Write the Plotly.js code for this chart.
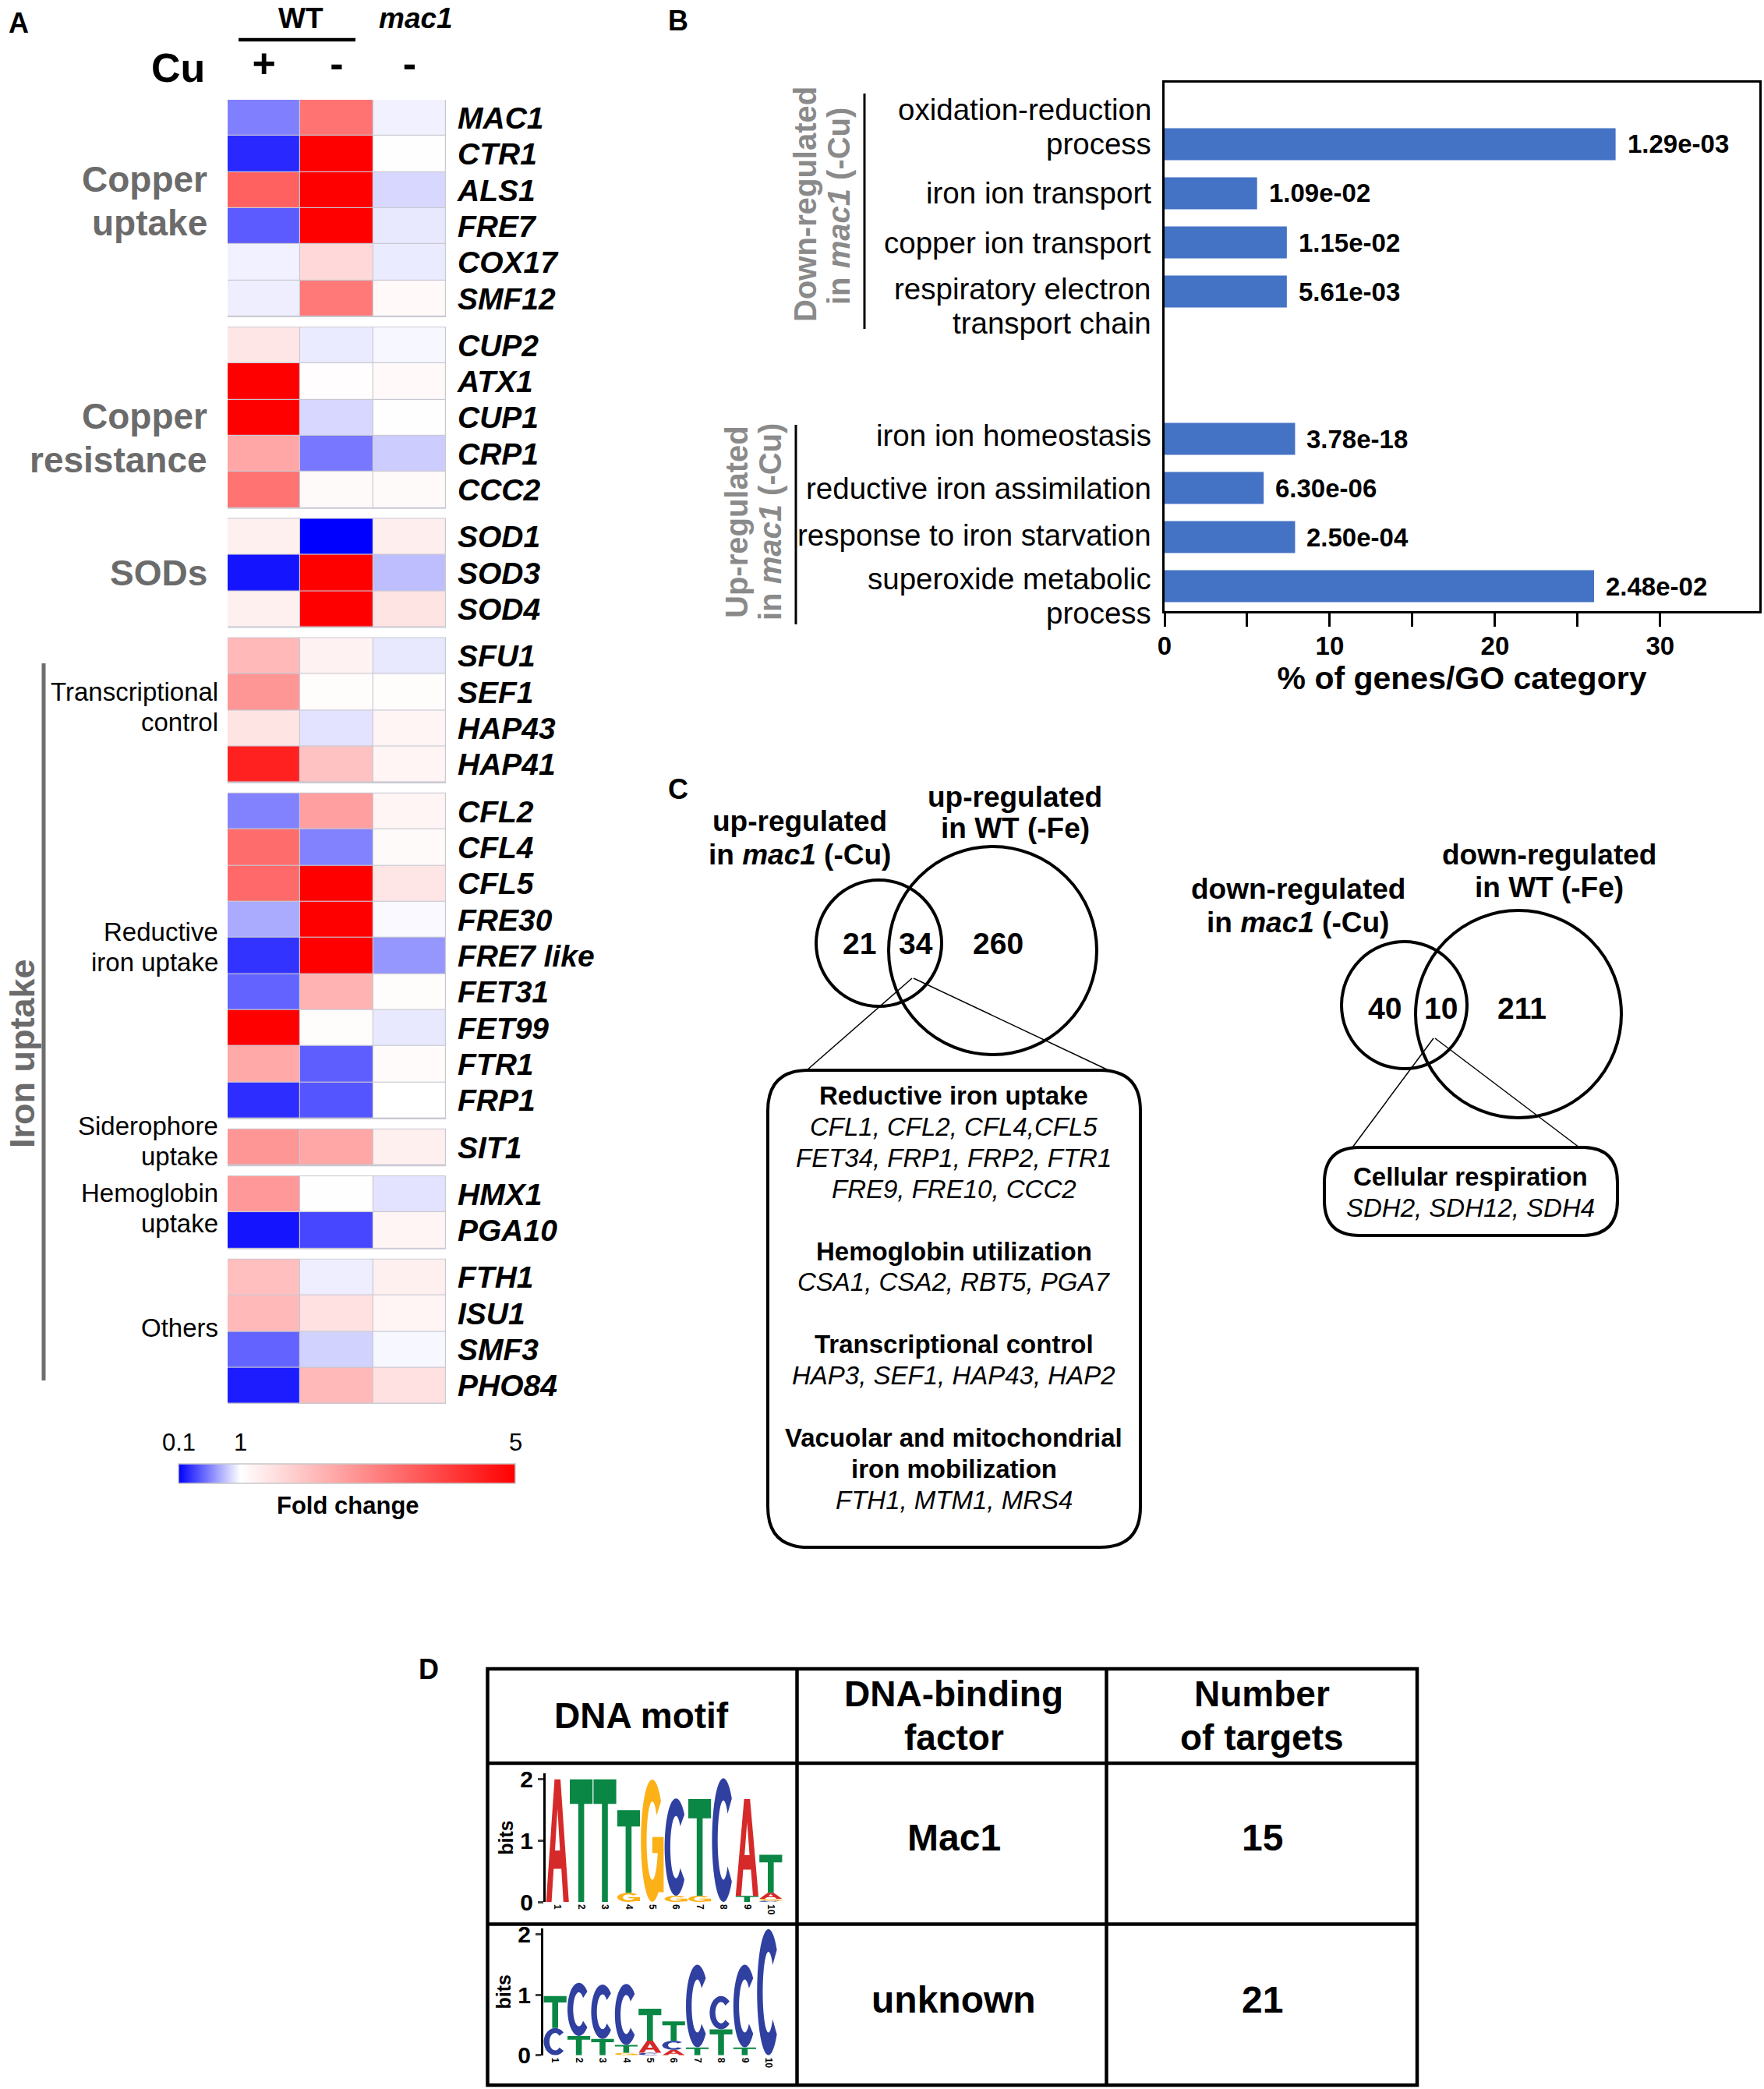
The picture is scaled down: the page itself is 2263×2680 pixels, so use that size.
<!DOCTYPE html>
<html>
<head>
<meta charset="utf-8">
<script src="https://cdn.plot.ly/plotly-3.0.1.min.js"></script>
<style>html,body{margin:0;padding:0;background:#fff;}</style>
</head>
<body>
<div id="chart" style="width:2263px;height:2680px"></div>
<script>
// ================= DATA =================
// ---- Panel A: heatmap of fold changes ----
const GENES = ['MAC1','CTR1','ALS1','FRE7','COX17','SMF12',
  'CUP2','ATX1','CUP1','CRP1','CCC2',
  'SOD1','SOD3','SOD4',
  'SFU1','SEF1','HAP43','HAP41',
  'CFL2','CFL4','CFL5','FRE30','FRE7 like','FET31','FET99','FTR1','FRP1',
  'SIT1',
  'HMX1','PGA10',
  'FTH1','ISU1','SMF3','PHO84'];
const GROUP_NAMES = ['Copper<br>uptake','Copper<br>resistance','SODs','Transcriptional<br>control',
  'Reductive<br>iron uptake','Siderophore<br>uptake','Hemoglobin<br>uptake','Others'];
const GROUP_SIZES = [6,5,3,4,9,1,2,4];
const CONDITIONS = ['+','-','-'];
const FC_WT_PLUS_CU = [0.55,0.24,3.5,0.42,0.95,0.94,
  1.4,5,5,2.4,3.2,
  1.24,0.17,1.24,
  2.1,2.65,1.42,4.5,
  0.56,3.3,3.35,0.7,0.28,0.45,5,2.35,0.26,
  2.65,
  2.6,0.17,
  2.0,2.1,0.45,0.2];
const FC_WT_MINUS_CU = [3.2,5,5,5,1.6,3.1,
  0.93,1.03,0.86,0.52,1.08,
  0.1,5,5,
  1.2,1.05,0.9,1.95,
  2.5,0.56,5,5,5,2.2,1.05,0.43,0.4,
  2.4,
  1.02,0.35,
  0.94,1.47,0.84,2.1];
const FC_MAC1_MINUS_CU = [0.95,1.02,0.86,0.92,0.93,1.1,
  0.97,1.1,1.02,0.82,1.08,
  1.27,0.77,1.42,
  0.92,1.05,1.15,1.15,
  1.15,1.08,1.4,0.98,0.63,1.05,0.92,1.06,1.0,
  1.24,
  0.9,1.15,
  1.24,1.15,0.97,1.47];
const FC_TICKS = [0.1, 1, 5];

// ---- Panel B: GO categories ----
const GO_TERMS = ['oxidation-reduction<br>process','iron ion transport','copper ion transport',
  'respiratory electron<br>transport chain','iron ion homeostasis','reductive iron assimilation',
  'response to iron starvation','superoxide metabolic<br>process'];
const GO_ROW = [0,1,2,3,6,7,8,9];
const GO_PERCENT = [27.3,5.6,7.4,7.4,7.9,6.0,7.9,26.0];
const GO_PVALUE = ['1.29e-03','1.09e-02','1.15e-02','5.61e-03','3.78e-18','6.30e-06','2.50e-04','2.48e-02'];
const GO_X_TICKS = [0,10,20,30];
const GO_X_MINOR = [5,15,25];

// ---- Panel C: Venn diagrams ----
const VENN_UP_SETS = ['up-regulated<br>in <i>mac1</i> (-Cu)','up-regulated<br>in WT (-Fe)'];
const VENN_UP_COUNTS = [21,34,260];
const VENN_DOWN_SETS = ['down-regulated<br>in <i>mac1</i> (-Cu)','down-regulated<br>in WT (-Fe)'];
const VENN_DOWN_COUNTS = [40,10,211];
const UP_OVERLAP_TEXT = ['<b>Reductive iron uptake</b>','<i>CFL1, CFL2, CFL4,CFL5</i>','<i>FET34, FRP1, FRP2, FTR1</i>',
  '<i>FRE9, FRE10, CCC2</i>','','<b>Hemoglobin utilization</b>','<i>CSA1, CSA2, RBT5, PGA7</i>','',
  '<b>Transcriptional control</b>','<i>HAP3, SEF1, HAP43, HAP2</i>','','<b>Vacuolar and mitochondrial</b>',
  '<b>iron mobilization</b>','<i>FTH1, MTM1, MRS4</i>'];
const DOWN_OVERLAP_TEXT = ['<b>Cellular respiration</b>','<i>SDH2, SDH12, SDH4</i>'];

// ---- Panel D: motif table ----
const TABLE_HEADERS = ['DNA motif','DNA-binding<br>factor','Number<br>of targets'];
const MOTIF_FACTORS = ['Mac1','unknown'];
const MOTIF_TARGETS = [15,21];
// sequence logos: letters listed bottom-to-top within each position
const LOGO1_POS  = [1,2,3,4,4,5,6,6,7,7,8,9,9,10,10,10,10];
const LOGO1_BASE = ['A','T','T','G','T','G','G','C','G','T','C','T','A','C','G','A','T'];
const LOGO1_BITS = [2.0,2.0,2.0,0.15,1.35,2.0,0.1,1.59,0.1,1.58,2.02,0.1,1.58,0.02,0.03,0.1,0.62];
const LOGO2_POS  = [1,1,2,2,3,3,4,4,4,5,5,5,6,6,6,7,7,8,8,9,9,10];
const LOGO2_BASE = ['C','T','T','C','T','C','G','T','C','C','A','T','A','C','T','T','C','T','C','T','C','C'];
const LOGO2_BITS = [0.45,0.53,0.32,0.88,0.27,0.9,0.04,0.13,1.01,0.04,0.2,0.53,0.09,0.15,0.32,0.13,1.37,0.43,0.55,0.13,1.37,2.09];

// ================= STYLE / LAYOUT =================
const W = 2263, H = 2680;
const FONT = '"Liberation Sans", Arial, Helvetica, sans-serif';
const X = px => px / W;
const Y = py => 1 - py / H;
const GROUP_GAP = 0.3;
const BASE_COLORS = {A:'#d62a2a', C:'#3040a0', G:'#fbb117', T:'#0a8744'};
const GRAY_A = '#6b6b6b', GRAY_B = '#8a8a8a';

const annotations = [];
const shapes = [];
function font(size, bold, color, extra) {
  return Object.assign({family: FONT, size: size, color: color || '#000', weight: bold ? 'bold' : 'normal'}, extra || {});
}
function txt(text, x, y, f, opts) {
  annotations.push(Object.assign({text: text, x: X(x), y: Y(y), xref: 'paper', yref: 'paper',
    showarrow: false, xanchor: 'center', yanchor: 'middle', font: f}, opts || {}));
}
// multi-line text with a fixed line step, centered on yc (pixels)
function txtLines(text, x, yc, step, f, opts) {
  const lines = text.split('<br>');
  lines.forEach((ln, i) => {
    if (!ln) return;
    txt(ln, x, yc + (i - (lines.length - 1) / 2) * step, f, opts);
  });
}
function line(x0, y0, x1, y1, w, c) {
  shapes.push({type: 'line', xref: 'paper', yref: 'paper', x0: X(x0), y0: Y(y0), x1: X(x1), y1: Y(y1),
    line: {color: c || '#000', width: w}});
}
function ellipse(x0, y0, x1, y1, w) {
  shapes.push({type: 'circle', xref: 'paper', yref: 'paper', x0: X(x0), y0: Y(y1), x1: X(x1), y1: Y(y0),
    line: {color: '#000', width: w}, fillcolor: 'rgba(0,0,0,0)'});
}
function roundRect(x0, y0, x1, y1, r, w) {
  const P = (x, y) => X(x) + ',' + Y(y);
  const path = 'M ' + P(x0 + r, y0) + ' L ' + P(x1 - r, y0) + ' Q ' + P(x1, y0) + ' ' + P(x1, y0 + r) +
    ' L ' + P(x1, y1 - r) + ' Q ' + P(x1, y1) + ' ' + P(x1 - r, y1) +
    ' L ' + P(x0 + r, y1) + ' Q ' + P(x0, y1) + ' ' + P(x0, y1 - r) +
    ' L ' + P(x0, y0 + r) + ' Q ' + P(x0, y0) + ' ' + P(x0 + r, y0) + ' Z';
  shapes.push({type: 'path', xref: 'paper', yref: 'paper', path: path, line: {color: '#000', width: w},
    fillcolor: 'rgba(0,0,0,0)'});
}

// ================= PANEL A =================
const traces = [];
const rowY = [];
{
  let k = 0;
  GROUP_SIZES.forEach((n, g) => { for (let i = 0; i < n; i++) { rowY.push(k + g * GROUP_GAP); k++; } });
}
const FC_MIN = FC_TICKS[0], FC_MAX = FC_TICKS[2];
const FC_SCALE = [[0, '#0000ff'], [(FC_TICKS[1] - FC_MIN) / (FC_MAX - FC_MIN), '#ffffff'], [1, '#ff0000']];
const CB_LEFT = 229, CB_LEN = 432;
const GROUP_LABEL_SHIFT = [9, -26, 0, 4, 11, 8, 5, 5];
{
  let start = 0;
  GROUP_SIZES.forEach((n, g) => {
    const idx = [];
    for (let i = 0; i < n; i++) idx.push(start + i);
    traces.push({
      type: 'heatmap', xaxis: 'x', yaxis: 'y', x: [0, 1, 2],
      y: idx.map(i => rowY[i]),
      z: idx.map(i => [FC_WT_PLUS_CU[i], FC_WT_MINUS_CU[i], FC_MAC1_MINUS_CU[i]]),
      zmin: FC_MIN, zmax: FC_MAX, colorscale: FC_SCALE, xgap: 1.2, ygap: 1.2, hoverinfo: 'skip',
      showscale: g === 0,
      colorbar: {orientation: 'h', x: X(CB_LEFT + CB_LEN / 2), xanchor: 'center', y: Y(1878), yanchor: 'top',
        lenmode: 'pixels', len: CB_LEN, thicknessmode: 'pixels', thickness: 25, xpad: 0, ypad: 0,
        outlinewidth: 1.5, outlinecolor: '#c8c8c8', showticklabels: false, ticks: ''}
    });
    const y0 = rowY[idx[0]] - 0.5, y1 = rowY[idx[n - 1]] + 0.5;
    shapes.push({type: 'rect', xref: 'x', yref: 'y', x0: -0.5, x1: 2.5, y0: y0, y1: y1, layer: 'below',
      fillcolor: '#c9c9d2', line: {color: '#c9c9d2', width: 2}});
    // group label
    const major = g < 3;
    const gLines = GROUP_NAMES[g].split('<br>');
    const step = major ? 56 : 39;
    gLines.forEach((ln, i) => {
      annotations.push({text: ln, xref: 'paper', yref: 'y', x: X(major ? 268 : 282), y: (y0 + y1) / 2,
        yshift: GROUP_LABEL_SHIFT[g] - (i - (gLines.length - 1) / 2) * step,
        xanchor: 'right', yanchor: 'middle', showarrow: false,
        font: major ? font(46, true, GRAY_A) : font(33, false, '#000')});
    });
    start += n;
  });
}
// colorbar tick labels (positioned by value along the bar)
FC_TICKS.forEach(v => {
  txt(String(v), CB_LEFT + (v - FC_MIN) / (FC_MAX - FC_MIN) * CB_LEN, 1850, font(31, false));
});
txt('Fold change', 446, 1932, font(31, true));
// headers
txt('A', 24, 29, font(36, true));
txt('WT', 386, 23, font(37, true));
txt('<i>mac1</i>', 533, 23, font(37, true));
line(306, 51, 456, 51, 4.5);
txt('Cu', 228, 87, font(52, true));
// Iron uptake bracket
line(56, 851, 56, 1771, 5, '#6e6e6e');
txt('Iron uptake', 28, 1352, font(45, true, GRAY_A), {textangle: -90});

// ================= PANEL B =================
traces.push({
  type: 'bar', orientation: 'h', xaxis: 'x2', yaxis: 'y2', x: GO_PERCENT, y: GO_ROW, width: 0.65,
  marker: {color: '#4472c4', line: {width: 0}}, hoverinfo: 'skip'
});
const GO_LABEL_SHIFT = [22, 0, 0, -18, 5, 0, 3, -12];
GO_TERMS.forEach((t, i) => {
  const ls = t.split('<br>');
  ls.forEach((ln, j) => {
    annotations.push({text: ln, xref: 'paper', yref: 'y2', x: X(1479), y: GO_ROW[i],
      yshift: GO_LABEL_SHIFT[i] - (j - (ls.length - 1) / 2) * 44, xanchor: 'right', yanchor: 'middle',
      showarrow: false, font: font(38.5, false)});
  });
  annotations.push({text: GO_PVALUE[i], xref: 'x2', yref: 'y2', x: GO_PERCENT[i], y: GO_ROW[i], xshift: 13,
    xanchor: 'left', yanchor: 'middle', showarrow: false, font: font(33, true)});
});
txt('B', 870, 27, font(36, true));
txt('Down-regulated', 1033, 262, font(40, true, GRAY_B), {textangle: -90});
txt('in <i>mac1</i> (-Cu)', 1076, 265, font(40, true, GRAY_B), {textangle: -90});
line(1109, 120, 1109, 422, 3);
txt('Up-regulated', 945, 670, font(40, true, GRAY_B), {textangle: -90});
txt('in <i>mac1</i> (-Cu)', 988, 670, font(40, true, GRAY_B), {textangle: -90});
line(1021, 545, 1021, 801, 3);

// ================= PANEL C =================
txt('C', 870, 1013, font(36, true));
const VF = font(37, true);
txtLines(VENN_UP_SETS[0], 1026, 1075, 42, VF);
txtLines(VENN_UP_SETS[1], 1302, 1042, 40, VF);
txtLines(VENN_DOWN_SETS[0], 1665, 1162, 43, VF);
txtLines(VENN_DOWN_SETS[1], 1987, 1117, 42, VF);
ellipse(1047, 1129, 1208, 1291, 4);
ellipse(1140, 1086, 1407, 1353, 4);
ellipse(1721, 1208, 1882, 1371, 4);
ellipse(1816, 1168, 2080, 1434, 4);
const NF = font(39, true);
[1102, 1175, 1280].forEach((x, i) => txt(String(VENN_UP_COUNTS[i]), x, 1210, NF));
[1776, 1848, 1952].forEach((x, i) => txt(String(VENN_DOWN_COUNTS[i]), x, 1293, NF));
line(1170, 1255, 1035, 1373, 1.5);
line(1172, 1255, 1422, 1373, 1.5);
line(1839, 1332, 1735, 1472, 1.5);
line(1841, 1332, 2026, 1472, 1.5);
roundRect(985, 1373, 1463, 1985, 52, 4);
roundRect(1699, 1472, 2075, 1585, 45, 4);
UP_OVERLAP_TEXT.forEach((t, i) => { if (t) txt(t, 1224, 1405.5 + i * 39.9, font(33, false)); });
DOWN_OVERLAP_TEXT.forEach((t, i) => txt(t, 1887, 1509 + i * 40, font(33, false)));

// ================= PANEL D =================
txt('D', 550, 2141, font(36, true));
const TB = {x0: 625.5, x1: 1818, y0: 2141, y1: 2675, c1: 1022.5, c2: 1419.5, r1: 2262, r2: 2468.5};
shapes.push({type: 'rect', xref: 'paper', yref: 'paper', x0: X(TB.x0), x1: X(TB.x1), y0: Y(TB.y1), y1: Y(TB.y0),
  line: {color: '#000', width: 4.5}, fillcolor: 'rgba(0,0,0,0)'});
line(TB.c1, TB.y0, TB.c1, TB.y1, 4.5);
line(TB.c2, TB.y0, TB.c2, TB.y1, 4.5);
line(TB.x0, TB.r1, TB.x1, TB.r1, 4.5);
line(TB.x0, TB.r2, TB.x1, TB.r2, 4.5);
const colCenter = [823, 1224, 1619];
TABLE_HEADERS.forEach((h, i) => txtLines(h, colCenter[i], 2201, 56, font(46, true)));
const rowCenter = [2357, 2565];
MOTIF_FACTORS.forEach((f, i) => txt(f, 1224, rowCenter[i], font(48, true)));
MOTIF_TARGETS.forEach((n, i) => txt(String(n), 1619, rowCenter[i], font(48, true)));

// ---- sequence-logo glyphs (unit box, y up) ----
function arcPts(rx, ry, a0, a1, n) {
  const p = [];
  for (let i = 0; i <= n; i++) {
    const a = (a0 + (a1 - a0) * i / n) * Math.PI / 180;
    p.push([0.5 + rx * Math.cos(a), 0.5 + ry * Math.sin(a)]);
  }
  return p;
}
const GLYPHS = {
  T: [[[[0,1],[1,1],[1,0.8],[0.63,0.8],[0.63,0],[0.37,0],[0.37,0.8],[0,0.8]]]],
  A: [[[[0,0],[0.37,1],[0.63,1],[1,0],[0.76,0],[0.67,0.27],[0.33,0.27],[0.24,0]],
       [[0.39,0.42],[0.61,0.42],[0.5,0.76]]]],
  C: [[arcPts(0.5, 0.5, 42, 318, 36).concat(arcPts(0.25, 0.32, 318, 42, 36))]],
  G: [[arcPts(0.5, 0.5, 40, 352, 36).concat(arcPts(0.25, 0.32, 352, 40, 36))],
      [[[0.5,0.53],[1,0.53],[1,0.08],[0.76,0.08],[0.76,0.4],[0.5,0.4]]]]
};
function addLogo(posArr, baseArr, bitsArr, xa, ya) {
  const stackTop = {};
  posArr.forEach((p, i) => {
    const b0 = stackTop[p] || 0, h = bitsArr[i];
    stackTop[p] = b0 + h;
    const x0 = p - 0.48, wdt = 0.96;
    GLYPHS[baseArr[i]].forEach(sub => {
      const path = sub.map(poly => 'M ' + poly.map(([u, v]) => (x0 + u * wdt).toFixed(4) + ',' + (b0 + v * h).toFixed(4)).join(' L ') + ' Z').join(' ');
      shapes.push({type: 'path', xref: xa, yref: ya, path: path, fillcolor: BASE_COLORS[baseArr[i]],
        line: {width: 0}, fillrule: 'evenodd', layer: 'above'});
    });
  });
}
addLogo(LOGO1_POS, LOGO1_BASE, LOGO1_BITS, 'x3', 'y3');
addLogo(LOGO2_POS, LOGO2_BASE, LOGO2_BITS, 'x4', 'y4');
// invisible traces so logo axes exist
traces.push({type: 'scatter', xaxis: 'x3', yaxis: 'y3', x: [1, 10], y: [0, 0], mode: 'markers', marker: {opacity: 0}, hoverinfo: 'skip', showlegend: false});
traces.push({type: 'scatter', xaxis: 'x4', yaxis: 'y4', x: [1, 10], y: [0, 0], mode: 'markers', marker: {opacity: 0}, hoverinfo: 'skip', showlegend: false});

const logoX = (d) => ({domain: d, range: [0.5, 10.5], tickvals: [1,2,3,4,5,6,7,8,9,10], tickangle: 90,
  tickfont: font(12, true), ticks: '', showline: false, showgrid: false, zeroline: false, fixedrange: true,
  ticklabelstandoff: 2});
const logoY = (d) => ({domain: d, range: [0, 2.1], tickvals: [0, 1, 2], ticks: 'outside', ticklen: 7, tickwidth: 3,
  tickfont: font(30, true), showline: true, linewidth: 3, linecolor: '#000', showgrid: false, zeroline: false,
  title: {text: 'bits', font: font(25, true), standoff: 2}, fixedrange: true});

// ================= LAYOUT =================
const layout = {
  width: W, height: H, margin: {l: 0, r: 0, t: 0, b: 0, pad: 0},
  paper_bgcolor: '#fff', plot_bgcolor: '#fff', showlegend: false,
  font: {family: FONT, color: '#000'},
  xaxis: {domain: [X(292), X(572)], range: [-0.5, 2.5], side: 'top', tickvals: [0, 1, 2], ticktext: CONDITIONS,
    tickfont: font(52, true), ticks: '', showgrid: false, zeroline: false, showline: false, fixedrange: true,
    ticklabelstandoff: 18, anchor: 'y'},
  yaxis: {domain: [Y(1801), Y(128)], range: [rowY[rowY.length - 1] + 0.5, -0.5], side: 'right',
    tickvals: rowY, ticktext: GENES, tickfont: font(39, true, '#000', {style: 'italic'}), ticks: '',
    showgrid: false, zeroline: false, showline: false, fixedrange: true, ticklabelstandoff: 14, anchor: 'x'},
  xaxis2: {domain: [X(1494), X(2257)], range: [0, 36], tickvals: GO_X_TICKS, ticks: 'outside', ticklen: 17,
    tickwidth: 3, tickcolor: '#000', tickfont: font(33, true), ticklabelstandoff: -4,
    minor: {tickvals: GO_X_MINOR, ticks: 'outside', ticklen: 17, tickwidth: 3, tickcolor: '#000', showgrid: false},
    showline: true, mirror: true, linewidth: 3, linecolor: '#000', showgrid: false, zeroline: false,
    title: {text: '% of genes/GO category', font: font(41, true), standoff: 0}, anchor: 'y2', fixedrange: true},
  yaxis2: {domain: [Y(784), Y(106)], range: [9.508, -1.254], showticklabels: false, ticks: '',
    showline: true, mirror: true, linewidth: 3, linecolor: '#000', showgrid: false, zeroline: false,
    anchor: 'x2', fixedrange: true},
  xaxis3: Object.assign(logoX([X(700), X(1004)]), {anchor: 'y3'}),
  yaxis3: Object.assign(logoY([Y(2440), Y(2275)]), {anchor: 'x3'}),
  xaxis4: Object.assign(logoX([X(697), X(1001)]), {anchor: 'y4'}),
  yaxis4: Object.assign(logoY([Y(2636.7), Y(2474)]), {anchor: 'x4'}),
  shapes: shapes,
  annotations: annotations
};

Plotly.newPlot('chart', traces, layout, {staticPlot: true, displayModeBar: false});
</script>
</body>
</html>
